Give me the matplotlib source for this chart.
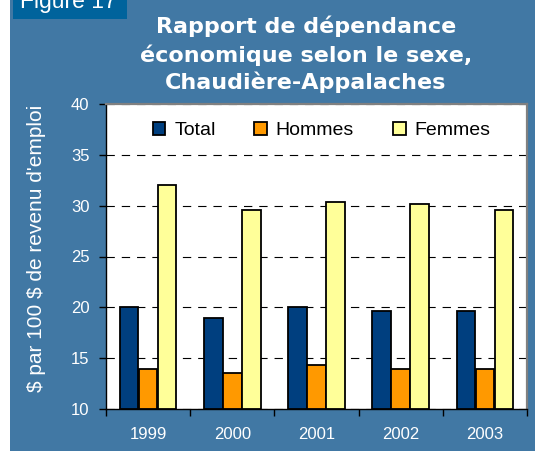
import matplotlib
matplotlib.use("Agg")
import matplotlib.pyplot as plt
import numpy as np
from matplotlib.patches import Rectangle

years = ["1999", "2000", "2001", "2002", "2003"]
total = [20.0, 19.0, 20.0, 19.6, 19.6]
hommes = [13.9, 13.5, 14.3, 13.9, 13.9]
femmes = [32.0, 29.6, 30.4, 30.2, 29.6]
series_names = ["Total", "Hommes", "Femmes"]
series_colors = ["#003F7F", "#FF9900", "#FFFF99"]

BG = "#4178A4"
W, H = 535, 451

plt.rcParams['font.family'] = ['Liberation Sans', 'DejaVu Sans']
plt.rcParams['lines.scale_dashes'] = False

fig = plt.figure(figsize=(W / 100, H / 100), dpi=100, facecolor="white")

# blue panel and the "Figure 17" tab (cut at the top, as in the original)
fig.patches.append(Rectangle((10 / W, 0), 1 - 10 / W, 1, transform=fig.transFigure,
                             facecolor=BG, edgecolor="none", zorder=-2))
fig.patches.append(Rectangle((13 / W, 1 - 19 / H), 114 / W, 19 / H, transform=fig.transFigure,
                             facecolor="#00639C", edgecolor="none", zorder=-1))
fig.text(20 / W, 1 - 8 / H, "Figure 17", color="white", fontsize=16.5,
         ha="left", va="baseline")

# title
title_lines = ["Rapport de dépendance", "économique selon le sexe,", "Chaudière-Appalaches"]
for line, yb in zip(title_lines, [33, 62, 89]):
    fig.text(306 / W, 1 - yb / H, line, color="white", fontsize=16, fontweight="bold",
             family="DejaVu Sans", ha="center", va="baseline")

ax = fig.add_axes([106 / W, 1 - 409 / H, (527 - 106) / W, (409 - 104) / H])
ax.set_facecolor("white")

x = np.arange(len(years)) + 0.5
width = 0.22
offsets = [-0.225, 0.0, 0.225]
for vals, name, col, off in zip([total, hommes, femmes], series_names, series_colors, offsets):
    ax.bar(x + off, np.array(vals) - 10, width, bottom=10, color=col, edgecolor="black",
           linewidth=1.3, label=name, zorder=3)

ax.set_xlim(0, len(years))
ax.set_ylim(10, 40)
ax.set_yticks(np.arange(10, 41, 5))
ax.set_xticks(np.arange(0, len(years) + 1))
ax.set_xticklabels([])
ax.set_xticks(x, minor=True)
ax.set_xticklabels(years, minor=True)
ax.tick_params(axis="x", which="major", direction="out", length=5, width=1, color="black")
ax.tick_params(axis="x", which="minor", length=0, pad=13, labelsize=12, labelcolor="white")
ax.tick_params(axis="y", direction="out", length=5, width=1, color="black", pad=7,
               labelsize=12, labelcolor="white")

ax.set_axisbelow(True)
ax.yaxis.grid(True, color="black", linestyle=(0, (6, 5)), linewidth=0.8)

for s in ["left", "bottom"]:
    ax.spines[s].set_color("black")
    ax.spines[s].set_linewidth(1)
for s in ["top", "right"]:
    ax.spines[s].set_color("#808080")
    ax.spines[s].set_linewidth(1.6)

fig.text(37 / W, 1 - 248 / H, "\\$ par 100 \\$ de revenu d'emploi", rotation=90, color="white",
         fontsize=15, ha="center", va="center")

ax.legend(loc="center", bbox_to_anchor=(0.512, 0.913), ncol=3, frameon=False, fontsize=14,
          handlelength=0.65, handleheight=0.7, handletextpad=0.45, columnspacing=2.0,
          borderpad=0.2)

fig.savefig("out.png", dpi=100, facecolor=fig.get_facecolor())
